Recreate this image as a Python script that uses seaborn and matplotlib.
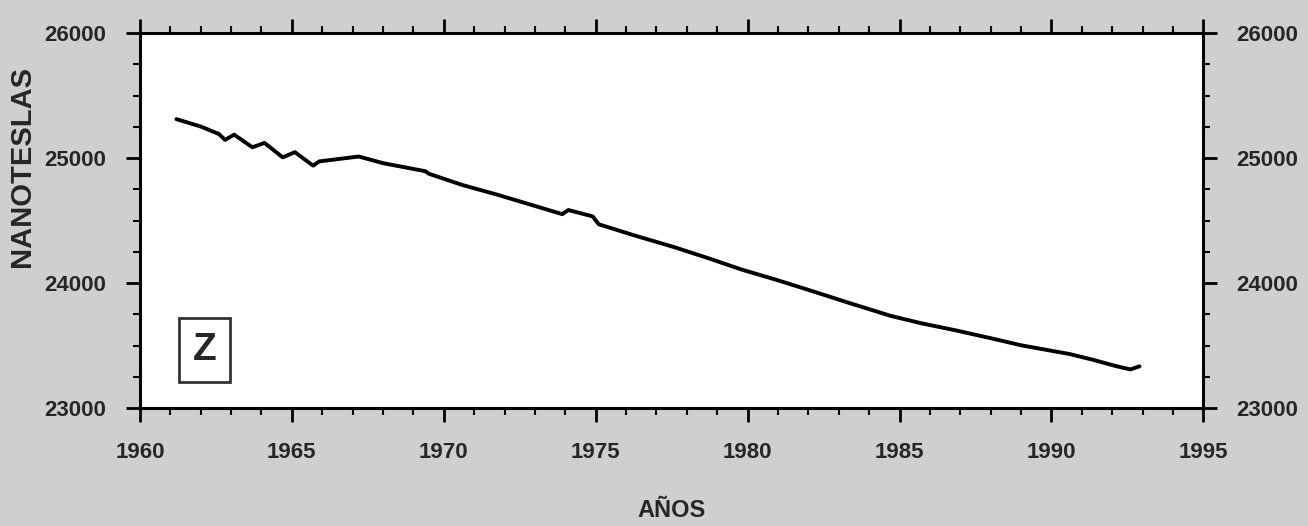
import numpy as np
import pandas as pd
import seaborn as sns
import matplotlib.pyplot as plt
from matplotlib.ticker import MultipleLocator

# Z component of the geomagnetic field
years = [1961.2, 1962.0, 1962.6, 1962.8, 1963.1, 1963.7, 1964.1, 1964.7, 1965.1,
         1965.7, 1965.9, 1967.2, 1968.0, 1969.4, 1969.5, 1970.6, 1971.8, 1972.9,
         1973.9, 1974.1, 1974.9, 1975.1, 1976.3, 1977.6, 1978.7, 1979.8, 1980.9,
         1981.9, 1983.3, 1984.7, 1985.7, 1986.8, 1988.0, 1989.0, 1990.6, 1991.4,
         1992.1, 1992.6, 1992.9]
z_nt = [25312, 25253, 25193, 25146, 25188, 25087, 25122, 25006, 25048,
        24940, 24974, 25013, 24960, 24895, 24876, 24786, 24705, 24625,
        24552, 24585, 24534, 24471, 24380, 24287, 24200, 24109, 24030,
        23954, 23845, 23739, 23680, 23625, 23560, 23503, 23433, 23385,
        23338, 23310, 23335]

x_ticks = [1960, 1965, 1970, 1975, 1980, 1985, 1990, 1995]
y_ticks = [23000, 24000, 25000, 26000]

df = pd.DataFrame({"year": years, "z": z_nt})

sns.set_style("ticks")
plt.rcParams['font.family'] = ['Liberation Sans', 'DejaVu Sans']
plt.rcParams['font.weight'] = 'bold'

fig = plt.figure(figsize=(13.08, 5.26), dpi=100, facecolor="#cfcfcf")
ax = fig.add_axes([0.107, 0.224, 0.813, 0.713])
ax.set_facecolor("white")

sns.lineplot(data=df, x="year", y="z", ax=ax, color="black", linewidth=2.8)

ax.set_xlim(1960, 1995)
ax.set_ylim(23000, 26000)
ax.set_xticks(x_ticks)
ax.set_yticks(y_ticks)
ax.xaxis.set_minor_locator(MultipleLocator(1))
ax.yaxis.set_minor_locator(MultipleLocator(250))

for side in ["top", "right", "bottom", "left"]:
    ax.spines[side].set_visible(True)
    ax.spines[side].set_linewidth(2.2)
    ax.spines[side].set_color("black")

ax.tick_params(which="both", direction="out", top=True, right=True,
               labelright=True, color="black")
ax.tick_params(which="major", length=10, width=2)
ax.tick_params(which="minor", length=5, width=1.5)
ax.tick_params(axis="y", which="major", labelsize=16, pad=14)
ax.tick_params(axis="x", which="major", labelsize=16, pad=14)
for lab in ax.get_xticklabels() + ax.get_yticklabels():
    lab.set_fontweight("bold")

ax.set_xlabel("AÑOS", fontsize=17, fontweight="bold", labelpad=26)
ax.set_ylabel("NANOTESLAS", fontsize=21, fontweight="bold")
ax.yaxis.set_label_coords(-0.098, 0.645)

ax.text(0.061, 0.155, "Z", transform=ax.transAxes, fontsize=28, fontweight="bold",
        ha="center", va="center",
        bbox=dict(boxstyle="square,pad=0.35", facecolor="white",
                  edgecolor="#333333", linewidth=2))

fig.savefig("out.png", dpi=100, facecolor=fig.get_facecolor())
